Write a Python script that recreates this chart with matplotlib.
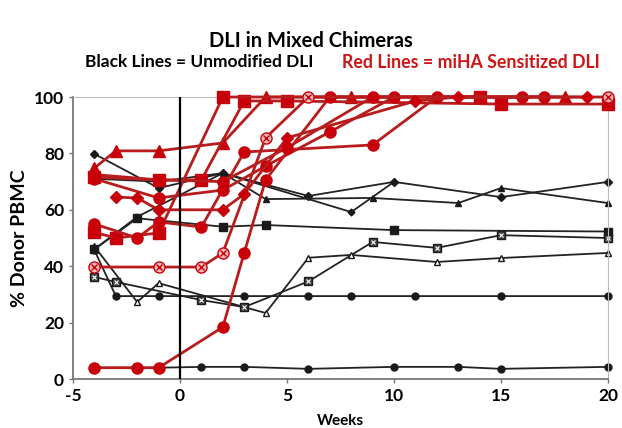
import matplotlib
matplotlib.use("Agg")
import matplotlib.pyplot as plt

plt.rcParams['font.family'] = ['Lato', 'DejaVu Sans']
plt.rcParams['axes.unicode_minus'] = False

# ---- Black lines (Unmodified DLI) ----
b1_x = [-4, -2, -1, 1, 3, 6, 10, 13, 15, 20]
b1_y = [4, 4, 4, 4.3, 4.3, 3.6, 4.3, 4.3, 3.6, 4.3]
b2_x = [-4, -3, -1, 3, 6, 8, 11, 15, 20]
b2_y = [45.7, 29.4, 29.4, 29.4, 29.4, 29.4, 29.4, 29.4, 29.4]
b3_x = [-4, -3, 1, 3, 6, 9, 12, 15, 20]
b3_y = [36.2, 34.4, 28, 25.5, 34.6, 48.6, 46.5, 51, 50]
b4_x = [-4, -2, -1, 4, 6, 8, 12, 15, 20]
b4_y = [47, 27.3, 34, 23.4, 43, 44, 41.5, 42.9, 44.7]
b5_x = [-4, -2, 2, 4, 10, 20]
b5_y = [46, 57, 54, 54.6, 52.8, 52.3]
b6_x = [-4, -1, 2, 6, 10, 15, 20]
b6_y = [79.8, 67.7, 73, 64.9, 69.9, 64.5, 69.9]
b7_x = [-4, -1, 2, 4, 9, 13, 15, 20]
b7_y = [71, 70, 73, 63.8, 64.2, 62.4, 67.7, 62.4]
b8_x = [-4, -2, 2, 8, 10]
b8_y = [46, 57.5, 73, 59.2, 69.9]

# ---- Red lines (miHA Sensitized DLI) ----
r1_x = [-4, -3, -1, 2, 4, 8, 18]
r1_y = [74.8, 80.9, 80.9, 83.7, 100, 100, 100]
r2_x = [-4, -1, 1, 3, 5, 15, 20]
r2_y = [71.6, 70.6, 70.6, 98.6, 98.6, 97.5, 97.5]
r3_x = [-4, -3, -1, 2, 14]
r3_y = [52, 50, 51.8, 100, 100]
r4_x = [-4, -2, -1, 1, 3, 9, 12, 17]
r4_y = [55, 50, 55.7, 53.9, 80.5, 83, 100, 100]
r5_x = [-4, -1, 2, 4, 7, 10]
r5_y = [71, 64.2, 67, 75.5, 87.6, 100]
r6_x = [-4, -2, -1, 2, 3, 4, 7, 16]
r6_y = [4, 4, 4, 18.4, 44.7, 70.6, 100, 100]
r7_x = [-4, -1, 1, 2, 4, 6, 20]
r7_y = [39.7, 39.7, 39.7, 44.7, 85.5, 100, 100]
r8_x = [-3, -2, -1, 2, 3, 5, 11, 13, 19]
r8_y = [64.5, 64.2, 60, 60, 65.6, 85.5, 98.6, 100, 100]
r9_x = [-4, -1, 2, 5, 9]
r9_y = [72.5, 70.6, 70, 82, 100]

x_ticks = [-5, 0, 5, 10, 15, 20]
y_ticks = [0, 20, 40, 60, 80, 100]

fig = plt.figure(figsize=(6.22, 4.28), dpi=100)
ax = fig.add_axes([73/622, 1-379/428, (608-73)/622, (379-97)/428])

BLK = '#1a1a1a'
RED = '#c8000a'
RLINE = '#b81c1c'

black_series = [
    (b1_x, b1_y, 'o', BLK, 5),
    (b2_x, b2_y, 'o', BLK, 5),
    (b3_x, b3_y, 's', '#444444', 6),
    (b4_x, b4_y, '^', 'white', 5),
    (b5_x, b5_y, 's', BLK, 5.5),
    (b6_x, b6_y, 'D', BLK, 4),
    (b7_x, b7_y, '^', BLK, 5),
    (b8_x, b8_y, 'D', BLK, 3.5),
]
for xs, ys, m, fc, ms in black_series:
    ax.plot(xs, ys, color='#222222', lw=1.3, marker=m, ms=ms, mfc=fc, mec=BLK,
            mew=1.0, zorder=2, clip_on=False)
    if m == 's' and fc != BLK:
        ax.plot(xs, ys, ls='none', marker='x', ms=ms*0.6, mec='white', mew=0.8,
                zorder=2.1, clip_on=False)

red_series = [
    (r1_x, r1_y, '^', 8.5),
    (r2_x, r2_y, 's', 8.5),
    (r3_x, r3_y, 's', 8.5),
    (r4_x, r4_y, 'o', 8),
    (r5_x, r5_y, 'o', 8),
    (r6_x, r6_y, 'o', 8),
    (r7_x, r7_y, 'o', 8),
    (r8_x, r8_y, 'D', 6),
    (r9_x, r9_y, 'o', 8),
]
for i, (xs, ys, m, ms) in enumerate(red_series):
    fc = '#f2b8b8' if i == 6 else RED
    ax.plot(xs, ys, color=RLINE, lw=2.0, marker=m, ms=ms, mfc=fc, mec=RED,
            mew=1.0, zorder=3, clip_on=False)
    if i == 6:
        ax.plot(xs, ys, ls='none', marker='x', ms=ms*0.6, mec=RED, mew=1.0,
                zorder=3.1, clip_on=False)

ax.axvline(0, color='black', lw=1.6, zorder=4)

ax.set_xlim(-5, 20)
ax.set_ylim(0, 100)
ax.set_xticks(x_ticks)
ax.set_yticks(y_ticks)
ax.tick_params(axis='both', labelsize=12.5, length=3, color='#777777', width=1)
for lab in ax.get_xticklabels() + ax.get_yticklabels():
    lab.set_fontweight('bold')
for s in ['left', 'bottom']:
    ax.spines[s].set_color('#777777')
    ax.spines[s].set_linewidth(1.3)
for s in ['top', 'right']:
    ax.spines[s].set_color('#bbbbbb')
    ax.spines[s].set_linewidth(0.8)

ax.set_xlabel('Weeks', fontsize=11, fontweight='bold', labelpad=7)
ax.set_ylabel('% Donor PBMC', fontsize=14, fontweight='bold', labelpad=4)

fig.text(0.5, 1-41/428, 'DLI in Mixed Chimeras', ha='center', va='center',
         fontsize=14.5, fontweight='bold')
fig.text(85/622, 1-62/428, 'Black Lines = Unmodified DLI', ha='left', va='center',
         fontsize=12.5, fontweight='bold', color='black')
fig.text(342/622, 1-62/428, 'Red Lines = miHA Sensitized DLI', ha='left', va='center',
         fontsize=12.8, fontweight='bold', color='#cc1515')

fig.savefig('out.png', dpi=100)
